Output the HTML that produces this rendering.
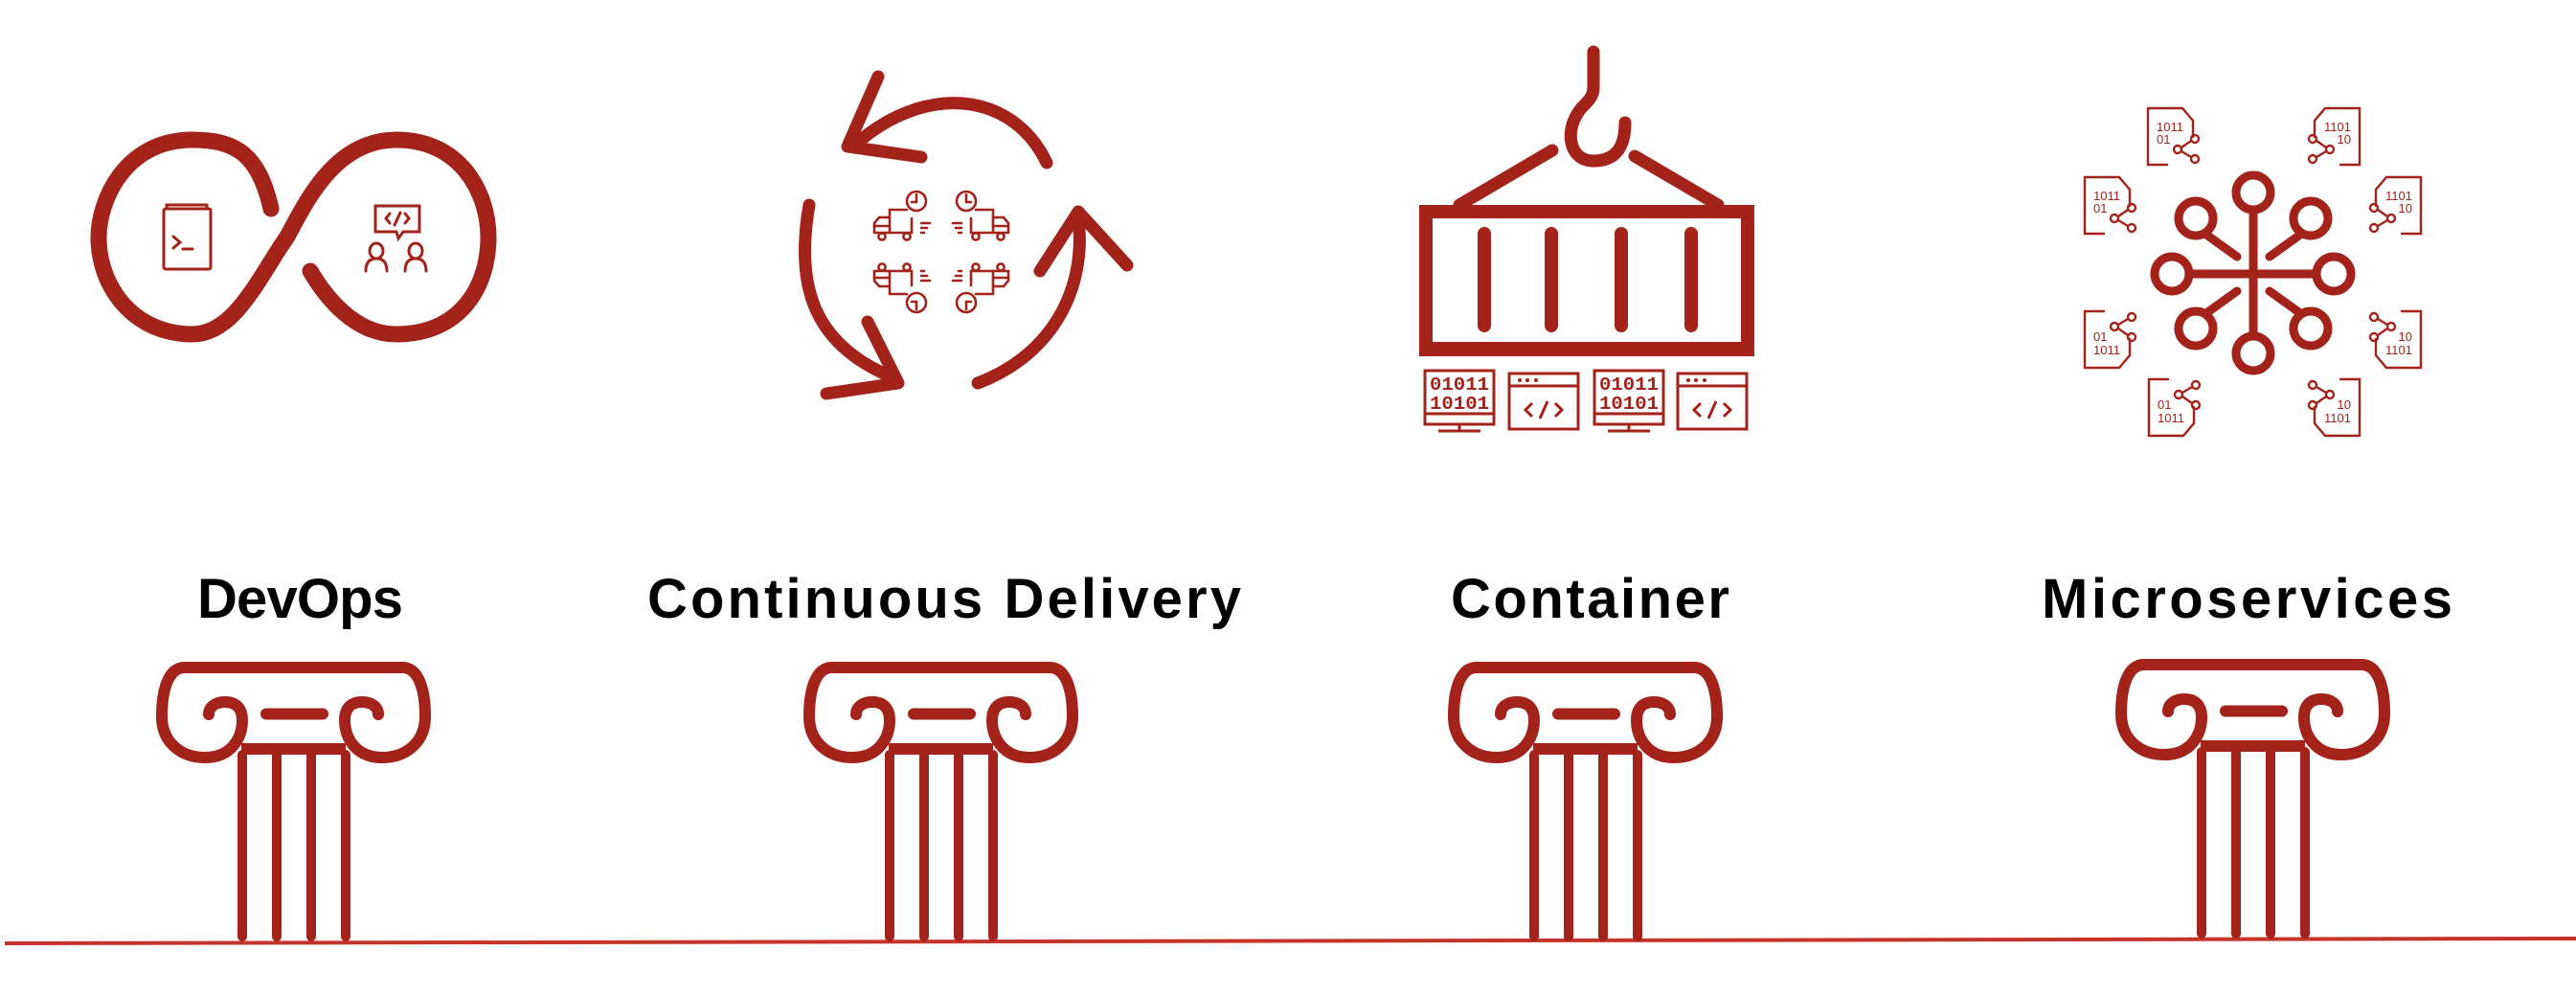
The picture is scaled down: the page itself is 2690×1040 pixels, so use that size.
<!DOCTYPE html>
<html><head><meta charset="utf-8"><style>
html,body{margin:0;padding:0;background:#fff;}
svg{display:block;}
</style></head><body>
<svg width="2690" height="1040" viewBox="0 0 2690 1040" xmlns="http://www.w3.org/2000/svg">
<defs>
<g id="pillar" fill="none" stroke="#a3221a" stroke-width="12" stroke-linecap="round">
  <path d="M193,697 L420,697"/>
  <path d="M193,697 C175,697 169,722 169,748 C169,776 190,791 214,791 C242,791 253,770 253,752 C253,739 246,733 235,733 C225,733 218,738 218,746"/>
  <path d="M420,697 C438,697 444,722 444,748 C444,776 423,791 399,791 C371,791 360,770 360,752 C360,739 367,733 378,733 C388,733 395,738 395,746"/>
  <rect x="252" y="776" width="109" height="12" fill="#a3221a" stroke="none"/>
  <path d="M278,745.5 L337,745.5" stroke-width="12"/>
  <path d="M253,788 L253,978 M289,788 L289,978 M325,788 L325,978 M361,788 L361,978" stroke-width="10"/>
</g>
<g id="truck" fill="none" stroke="#a3221a" stroke-width="2.6" stroke-linecap="round">
  <circle cx="957" cy="210" r="10"/>
  <path d="M957,203 L957,211 L952,211"/>
  <path d="M947,219 L929,219 L929,243 L913,243 L913,233 L918,227 L929,227"/>
  <path d="M952,228 L952,243 L929,243"/>
  <path d="M913,236 L929,236"/>
  <circle cx="921" cy="247" r="3.6"/>
  <circle cx="947" cy="247" r="3.6"/>
  <path d="M962,233 L971,233 M962,238 L968,238 M962,243 L965,243"/>
</g>
<g id="doc" fill="none" stroke="#a3221a" stroke-width="2.4" stroke-linecap="round">
  <path d="M0,0 L36,0 L47,13 L47,30"/>
  <path d="M0,0 L0,59 L20,59"/>
  <circle cx="49" cy="32" r="4"/>
  <circle cx="31" cy="43" r="4"/>
  <circle cx="49" cy="53" r="4"/>
  <path d="M45,34 L35,41 M35,45 L45,51"/>
</g>
</defs>

<path d="M5,985 L2690,980" stroke="#c4342a" stroke-width="4" fill="none"/>

<use href="#pillar"/>
<use href="#pillar" transform="translate(676,0)"/>
<use href="#pillar" transform="translate(1349,0)"/>
<use href="#pillar" transform="translate(2046,-3)"/>

<g font-family="Liberation Sans, Arial, sans-serif" font-weight="bold" font-size="58" fill="#000">
  <text x="206" y="645" textLength="215" lengthAdjust="spacing">DevOps</text>
  <text x="676" y="645" textLength="620" lengthAdjust="spacing">Continuous Delivery</text>
  <text x="1515" y="645" textLength="291" lengthAdjust="spacing">Container</text>
  <text x="2132" y="645" textLength="429" lengthAdjust="spacing">Microservices</text>
</g>

<g fill="none" stroke="#a3221a" stroke-linecap="round">
  <path stroke-width="17" d="M283,218 C270,160 245,146 201,146 C130,146 103,210 103,248 C103,300 140,349 201,349 C245,349 270,290 300,247 C320,210 350,146 414,146 C480,146 510,200 510,248 C510,300 480,349 414,349 C370,349 340,310 324,283"/>
  <g stroke-width="3">
    <rect x="171" y="218" width="49" height="63" rx="2"/>
    <path d="M174,218 L174,214 L216,214 L216,218"/>
    <path d="M181,247 L188,253 L181,259 M191,260 L201,260"/>
  </g>
  <g stroke-width="3">
    <path d="M392,215 L438,215 L438,242 L421,242 L416,249 L414,242 L392,242 Z"/>
    <path d="M407,223 L403,228 L407,233 M423,223 L427,228 L423,233 M418,222 L412,235"/>
    <ellipse cx="393" cy="262" rx="7" ry="8"/>
    <path d="M382,283 C382,274 386,270 393,270 C400,270 404,274 404,283"/>
    <ellipse cx="434" cy="262" rx="7" ry="8"/>
    <path d="M423,283 C423,274 427,270 434,270 C441,270 445,274 445,283"/>
  </g>
</g>

<g fill="none" stroke="#a3221a" stroke-width="13" stroke-linecap="round" stroke-linejoin="round">
  <path d="M1093,170 C1060,100 975,85 900,145"/>
  <path d="M917,80 L885,153 L962,164"/>
  <path d="M845,214 C830,300 850,360 932,394"/>
  <path d="M906,336 L938,400 L863,411"/>
  <path d="M1021,400 C1100,370 1135,300 1126,228"/>
  <path d="M1086,283 L1126,221 L1177,277"/>
</g>
<use href="#truck"/>
<use href="#truck" transform="translate(1966,0) scale(-1,1)"/>
<use href="#truck" transform="translate(0,526) scale(1,-1)"/>
<use href="#truck" transform="translate(1966,526) scale(-1,-1)"/>

<g fill="none" stroke="#a3221a" stroke-linecap="round">
  <path stroke-width="13" d="M1664,54 L1664,92 Q1664,100 1656,108 C1632,130 1636,168 1664,168 C1690,168 1697,150 1697,128"/>
  <path stroke-width="13" d="M1621,157 L1524,214 M1707,163 L1794,214"/>
  <path stroke-width="14" d="M1550,244 L1550,340 M1620,244 L1620,340 M1693,244 L1693,340 M1766,244 L1766,340"/>
</g>
<path fill="#a3221a" fill-rule="evenodd" d="M1482,214 L1832,214 L1832,372 L1482,372 Z M1496,228 L1818,228 L1818,357 L1496,357 Z"/>
<g fill="none" stroke="#a3221a" stroke-width="3">
  <rect x="1488" y="387" width="72" height="56"/>
  <path d="M1488,432 L1560,432 M1524,443 L1524,450 M1502,450 L1546,450"/>
  <rect x="1576" y="390" width="72" height="58"/>
  <path d="M1576,403 L1648,403"/>
  <path d="M1600,421 L1593,428 L1600,435 M1624,421 L1631,428 L1624,435 M1616,419 L1608,437"/>
  <rect x="1665" y="387" width="72" height="56"/>
  <path d="M1665,432 L1737,432 M1701,443 L1701,450 M1679,450 L1723,450"/>
  <rect x="1752" y="390" width="72" height="58"/>
  <path d="M1752,403 L1824,403"/>
  <path d="M1776,421 L1769,428 L1776,435 M1800,421 L1807,428 L1800,435 M1792,419 L1784,437"/>
</g>
<g fill="#a3221a">
  <circle cx="1587" cy="397" r="2"/><circle cx="1595" cy="397" r="2"/><circle cx="1604" cy="397" r="2"/>
  <circle cx="1763" cy="397" r="2"/><circle cx="1771" cy="397" r="2"/><circle cx="1780" cy="397" r="2"/>
</g>
<g font-family="Liberation Mono, monospace" font-weight="bold" font-size="19" fill="#a3221a">
  <text x="1493" y="407" textLength="62" lengthAdjust="spacingAndGlyphs">01011</text>
  <text x="1493" y="427" textLength="62" lengthAdjust="spacingAndGlyphs">10101</text>
  <text x="1670" y="407" textLength="62" lengthAdjust="spacingAndGlyphs">01011</text>
  <text x="1670" y="427" textLength="62" lengthAdjust="spacingAndGlyphs">10101</text>
</g>

<g fill="none" stroke="#a3221a" stroke-width="9" stroke-linecap="round">
  <circle cx="2353" cy="201" r="18"/>
  <circle cx="2353" cy="369" r="18"/>
  <circle cx="2268" cy="286" r="18"/>
  <circle cx="2437" cy="286" r="18"/>
  <circle cx="2293" cy="228" r="18"/>
  <circle cx="2413" cy="228" r="18"/>
  <circle cx="2293" cy="343" r="18"/>
  <circle cx="2413" cy="343" r="18"/>
  <path d="M2353,219 L2353,351 M2286,286 L2419,286"/>
  <path d="M2336,268 L2304,245 M2370,268 L2402,245 M2336,304 L2304,327 M2370,304 L2402,327"/>
</g>
<use href="#doc" transform="translate(2243,113)"/>
<use href="#doc" transform="translate(2464,113) scale(-1,1)"/>
<use href="#doc" transform="translate(2177,185)"/>
<use href="#doc" transform="translate(2528,185) scale(-1,1)"/>
<use href="#doc" transform="translate(2177,384) scale(1,-1)"/>
<use href="#doc" transform="translate(2528,384) scale(-1,-1)"/>
<use href="#doc" transform="translate(2244,455) scale(1,-1)"/>
<use href="#doc" transform="translate(2464,455) scale(-1,-1)"/>
<g font-family="Liberation Sans, sans-serif" font-size="13" fill="#a3221a">
  <text x="2252" y="137">1011</text><text x="2252" y="150">01</text>
  <text x="2455" y="137" text-anchor="end">1101</text><text x="2455" y="150" text-anchor="end">10</text>
  <text x="2186" y="209">1011</text><text x="2186" y="222">01</text>
  <text x="2519" y="209" text-anchor="end">1101</text><text x="2519" y="222" text-anchor="end">10</text>
  <text x="2186" y="356">01</text><text x="2186" y="370">1011</text>
  <text x="2519" y="356" text-anchor="end">10</text><text x="2519" y="370" text-anchor="end">1101</text>
  <text x="2253" y="427">01</text><text x="2253" y="441">1011</text>
  <text x="2455" y="427" text-anchor="end">10</text><text x="2455" y="441" text-anchor="end">1101</text>
</g>
</svg>
</body></html>
